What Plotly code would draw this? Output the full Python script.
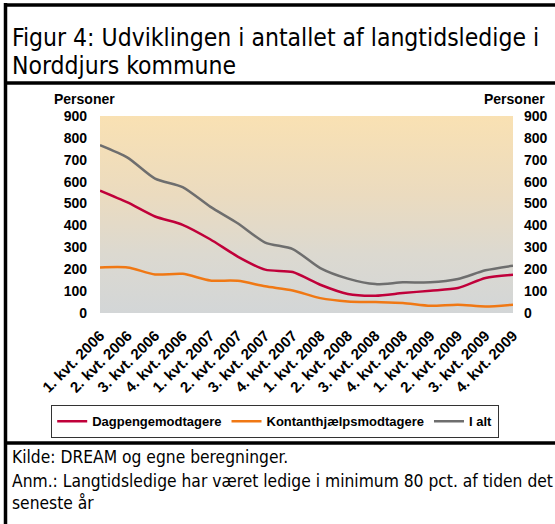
import plotly.graph_objects as go

# Kvartaler 2006-2009
KVARTALER = [f"{q}. kvt. {aar}" for aar in (2006, 2007, 2008, 2009) for q in (1, 2, 3, 4)]

# (personer)
DAGPENGE = [559, 505, 441, 403, 337, 258, 198, 187, 129, 87, 79, 91, 102, 114, 160, 175]
KONTANT = [208, 208, 176, 179, 149, 147, 122, 103, 68, 53, 50, 46, 33, 38, 30, 38]
I_ALT = [767, 710, 614, 575, 486, 410, 322, 292, 205, 157, 132, 140, 140, 155, 195, 216]

Y_TICKS = [0, 100, 200, 300, 400, 500, 600, 700, 800, 900]

W, H = 555, 524
L, R, T, B = 100, 42, 116, 211
PW, PH = W - L - R, H - T - B

NARROW = "DejaVu Sans Condensed, Liberation Sans Narrow, sans-serif"
BOLD = "Liberation Sans, Arial, sans-serif"


def px_x(x):
    return (x - L) / PW


def px_y(y):
    return (H - B - y) / PH


fig = go.Figure()

# baggrund med farveforløb
fig.add_trace(go.Scatter(
    x=[KVARTALER[0], KVARTALER[-1], KVARTALER[-1], KVARTALER[0]],
    y=[Y_TICKS[0], Y_TICKS[0], Y_TICKS[-1], Y_TICKS[-1]],
    fill="toself", mode="none", showlegend=False, hoverinfo="skip",
    fillgradient=dict(type="vertical",
                      colorscale=[[0, "#d3d6d7"], [0.3, "#dcd9d0"], [0.6, "#ebdbbf"], [1, "#f9e1b3"]]),
))

series = [
    ("Dagpengemodtagere", DAGPENGE, "#c0003a"),
    ("Kontanthjælpsmodtagere", KONTANT, "#f07814"),
    ("I alt", I_ALT, "#6e6e6e"),
]
for name, vals, col in series:
    fig.add_trace(go.Scatter(
        x=KVARTALER, y=vals, name=name, mode="lines",
        line=dict(color=col, width=2.5, shape="spline", smoothing=0.7),
    ))

# usynlig kopi til højre akse
fig.add_trace(go.Scatter(x=KVARTALER, y=I_ALT, yaxis="y2", mode="lines",
                         line=dict(width=0), opacity=0, showlegend=False, hoverinfo="skip"))

axis_font = dict(family=BOLD, size=14, color="black", weight="bold")

fig.update_layout(
    width=W, height=H,
    margin=dict(l=L, r=R, t=T, b=B, autoexpand=False),
    paper_bgcolor="white", plot_bgcolor="rgba(0,0,0,0)",
    xaxis=dict(range=[0, len(KVARTALER) - 1], categoryorder="array", categoryarray=KVARTALER,
               tickangle=-45, showgrid=False, ticks="", ticklabelstandoff=10,
               tickfont=dict(family=BOLD, size=15, color="black", weight="bold"),
               zeroline=False, showline=False),
    yaxis=dict(range=[Y_TICKS[0], Y_TICKS[-1]], tickvals=Y_TICKS, showgrid=True,
               gridcolor="white", gridwidth=1.5, zeroline=False, tickfont=axis_font,
               ticklabelstandoff=12, layer="above traces"),
    yaxis2=dict(range=[Y_TICKS[0], Y_TICKS[-1]], tickvals=Y_TICKS, overlaying="y",
                side="right", showgrid=False, zeroline=False, tickfont=axis_font,
                ticklabelstandoff=10),
    legend=dict(orientation="h", x=px_x(51), xanchor="left",
                y=px_y(405), yanchor="top",
                bordercolor="#333333", borderwidth=1.2,
                font=dict(family=BOLD, size=13, color="black", weight="bold"),
                itemwidth=30),
    showlegend=True,
)

ann = [
    dict(text="Figur 4: Udviklingen i antallet af langtidsledige i", x=px_x(10), y=px_y(38),
         size=24.5),
    dict(text="Norddjurs kommune", x=px_x(10), y=px_y(66), size=24.5),
    dict(text="Kilde: DREAM og egne beregninger.", x=px_x(10), y=px_y(457), size=17.3),
    dict(text="Anm.: Langtidsledige har været ledige i minimum 80 pct. af tiden det",
         x=px_x(10), y=px_y(481), size=17.3),
    dict(text="seneste år", x=px_x(10), y=px_y(503), size=17.3),
]
for a in ann:
    fig.add_annotation(text=a["text"], x=a["x"], y=a["y"], xref="paper", yref="paper",
                       xanchor="left", yanchor="middle", showarrow=False,
                       font=dict(family=NARROW, size=a["size"], color="black"))

for txt, xc in (("Personer", 84), ("Personer", 514)):
    fig.add_annotation(text=txt, x=px_x(xc), y=px_y(99), xref="paper", yref="paper",
                       xanchor="center", yanchor="middle", showarrow=False,
                       font=dict(family=BOLD, size=14, color="black", weight="bold"))

# rammer
line = dict(color="black", width=3.5)
fig.add_shape(type="line", xref="paper", yref="paper", x0=px_x(5.5), x1=px_x(5.5),
              y0=px_y(3), y1=px_y(H + 5), line=line)
fig.add_shape(type="line", xref="paper", yref="paper", x0=px_x(4), x1=px_x(W + 5),
              y0=px_y(5), y1=px_y(5), line=line)
fig.add_shape(type="line", xref="paper", yref="paper", x0=px_x(4), x1=px_x(W + 5),
              y0=px_y(83), y1=px_y(83), line=line)
fig.add_shape(type="line", xref="paper", yref="paper", x0=px_x(4), x1=px_x(W + 5),
              y0=px_y(443), y1=px_y(443), line=line)

fig.write_html("out.html", config={"displayModeBar": False},
               post_script="document.body.style.margin='0';")
